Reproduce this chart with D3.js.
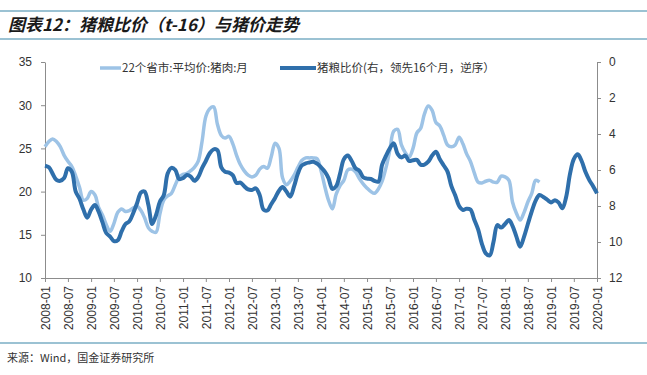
<!DOCTYPE html>
<html>
<head>
<meta charset="utf-8">
<script src="https://cdn.jsdelivr.net/npm/d3@7"></script>
<style>
  body { margin: 0; background: #fff; }
  svg { display: block; font-family: "Liberation Sans", Arial, sans-serif; }
</style>
</head>
<body>
<div id="chart"></div>
<script>
// monthly, starting 2008-01
const porkPrice = [
  25.2, 25.8, 26.1, 25.8, 25.2, 24.2, 23.5, 22.9, 21.8, 20.5, 19.0, 19.2,
  20.0, 19.6, 18.2, 17.3, 16.2, 15.4, 16.3, 17.6, 18.0, 17.7, 17.8, 18.1,
  18.3, 17.8, 17.0, 15.8, 15.4, 15.3, 17.4, 19.0, 19.5, 19.8, 20.8, 21.7,
  22.0, 22.1, 22.4, 22.8, 23.5, 25.8, 28.7, 29.6, 29.8, 27.8, 26.5, 26.2,
  26.4, 25.5, 24.2, 23.1, 22.4, 21.9, 21.7, 21.9, 22.6, 22.9, 22.7, 24.0,
  25.6, 25.0, 21.6, 20.8, 21.2, 21.9, 22.8, 23.6, 23.9, 23.9, 23.9, 23.8,
  22.4, 20.5, 19.0, 18.0, 19.7, 20.7, 21.3, 22.5, 22.6, 22.3, 21.5, 20.9,
  20.4, 20.0, 19.8, 20.3, 21.2, 22.8, 24.8, 27.0, 27.2, 25.4, 24.5, 24.0,
  25.0, 26.8, 27.3, 29.0, 29.9, 29.4, 28.0, 27.6, 26.5, 25.4, 25.2, 25.4,
  26.3, 25.5, 24.4, 23.5, 22.2, 21.1, 21.0, 21.2, 21.3, 21.1, 21.1, 21.8,
  21.7, 21.3, 18.8, 17.5, 16.7, 17.6, 18.8, 19.8, 21.3, 21.1
];

// hog/grain ratio, shifted 16 months ahead, right axis (reversed)
const hogGrainRatio = [
  5.76, 5.85, 6.2, 6.55, 6.6, 6.45, 5.9, 6.1, 7.2, 7.6, 8.2, 8.65,
  8.2, 7.95, 8.3, 8.9, 9.5, 9.7, 9.95, 9.9, 9.4, 9.0, 8.85, 8.4,
  7.85, 7.25, 7.2, 7.94, 9.0, 8.5, 7.76, 7.4, 6.2, 5.88, 6.0, 6.5,
  6.45, 6.28, 6.35, 6.6, 6.4, 5.9, 5.5, 5.07, 4.85, 4.9, 5.85, 6.1,
  6.15, 6.3, 6.72, 6.7, 6.9, 7.08, 7.11, 7.02, 7.4, 8.2, 8.25, 7.9,
  7.55, 7.15, 6.95, 7.2, 7.48, 6.9, 6.2, 5.75, 5.63, 5.58, 5.54, 5.65,
  5.85, 6.1, 6.45, 7.05, 6.9, 6.2, 5.4, 5.2, 5.5, 5.9, 6.05, 6.4,
  6.48, 6.5, 6.6, 6.65, 5.7, 5.2, 4.8, 4.52, 5.1, 5.3, 5.2, 5.5,
  5.46, 5.44, 5.7, 5.7, 5.54, 5.2, 4.98, 5.4, 5.75, 6.09, 6.9, 7.4,
  8.0, 8.22, 8.15, 8.2, 8.75, 9.3, 10.1, 10.63, 10.75, 10.0, 9.06, 9.2,
  9.0, 8.78, 9.1, 9.7, 10.26, 9.7, 9.0, 8.3, 7.7, 7.39, 7.5, 7.65,
  7.8, 7.68, 7.8, 8.13, 7.5, 6.2, 5.4, 5.13, 5.5, 6.1, 6.56, 6.9, 7.3
];

const leftTicks = [10, 15, 20, 25, 30, 35];
const rightTicks = [0, 2, 4, 6, 8, 10, 12];
const seriesNames = ["22个省市:平均价:猪肉:月", "猪粮比价(右，领先16个月，逆序）"];

const width = 647, height = 375;
const x0 = 45, x1 = 597, yTop = 62, yBot = 278;
const lightBlue = "#9dc3e6", darkBlue = "#2f6fab", axisGrey = "#8c8c8c";

const monthDate = i => new Date(2008, i, 1);

const x = d3.scaleTime()
  .domain([monthDate(0), monthDate(144)])
  .range([x0, x1]);
const yL = d3.scaleLinear().domain([10, 35]).range([yBot, yTop]);
const yR = d3.scaleLinear().domain([0, 12]).range([yTop, yBot]);

const svg = d3.select("#chart")
  .append("svg")
  .attr("width", width)
  .attr("height", height);

// title block
[11, 39].forEach(yy => {
  svg.append("line")
    .attr("x1", 0).attr("x2", width).attr("y1", yy).attr("y2", yy)
    .attr("stroke", "#7aaec4").attr("stroke-width", 1.5);
});
svg.append("text")
  .attr("x", 8).attr("y", 31)
  .attr("font-family", "'Noto Sans CJK SC', sans-serif")
  .attr("font-size", 17)
  .attr("font-weight", "bold")
  .attr("font-style", "italic")
  .attr("fill", "#1a1a1a")
  .text("图表12：猪粮比价（t-16）与猪价走势");

// footer
svg.append("line")
  .attr("x1", 0).attr("x2", width).attr("y1", 343).attr("y2", 343)
  .attr("stroke", "#7aaec4").attr("stroke-width", 1.5);
svg.append("text")
  .attr("x", 7).attr("y", 362)
  .attr("font-family", "'Noto Sans CJK SC', sans-serif")
  .attr("font-size", 11)
  .attr("fill", "#333")
  .text("来源：Wind，国金证券研究所");

// axes
const styleAxis = g => {
  g.select(".domain").attr("stroke", axisGrey);
  g.selectAll(".tick line").attr("stroke", axisGrey);
  g.selectAll(".tick text").attr("fill", "#333").attr("font-size", 12);
};

svg.append("g")
  .attr("transform", `translate(${x0},0)`)
  .call(d3.axisLeft(yL).tickValues(leftTicks).tickSize(4).tickSizeOuter(0).tickPadding(9))
  .call(styleAxis);

svg.append("g")
  .attr("transform", `translate(${x1},0)`)
  .call(d3.axisRight(yR).tickValues(rightTicks).tickSize(4).tickSizeOuter(0).tickPadding(8))
  .call(styleAxis);

const xAxis = svg.append("g")
  .attr("transform", `translate(0,${yBot})`)
  .call(d3.axisBottom(x)
    .ticks(d3.timeMonth.every(6))
    .tickFormat(d3.timeFormat("%Y-%m"))
    .tickSize(4).tickSizeOuter(0))
  .call(styleAxis);

xAxis.selectAll(".tick text")
  .attr("font-size", 12)
  .attr("text-anchor", "end")
  .attr("transform", "rotate(-90)")
  .attr("x", -8)
  .attr("y", 0)
  .attr("dy", "0.35em");

// lines
const lineL = d3.line()
  .x((d, i) => x(monthDate(i)))
  .y(d => yL(d))
  .curve(d3.curveCatmullRom.alpha(0.5));

const lineR = d3.line()
  .x((d, i) => x(monthDate(i)))
  .y(d => yR(d))
  .curve(d3.curveCatmullRom.alpha(0.5));

svg.append("path")
  .datum(porkPrice)
  .attr("fill", "none")
  .attr("stroke", lightBlue)
  .attr("stroke-width", 3.5)
  .attr("stroke-linejoin", "round")
  .attr("d", lineL);

svg.append("path")
  .datum(hogGrainRatio)
  .attr("fill", "none")
  .attr("stroke", darkBlue)
  .attr("stroke-width", 4)
  .attr("stroke-linejoin", "round")
  .attr("d", lineR);

// legend
const legend = svg.append("g")
  .attr("font-family", "'Noto Sans CJK SC', sans-serif")
  .attr("font-size", 11.5)
  .attr("fill", "#333");

const legendItems = [
  { name: seriesNames[0], color: lightBlue, w: 3.5, x: 100, len: 21 },
  { name: seriesNames[1], color: darkBlue, w: 4, x: 280, len: 36 }
];

legendItems.forEach(d => {
  legend.append("line")
    .attr("x1", d.x).attr("x2", d.x + d.len)
    .attr("y1", 68).attr("y2", 68)
    .attr("stroke", d.color).attr("stroke-width", d.w);
  legend.append("text")
    .attr("x", d.x + d.len + 1).attr("y", 68)
    .attr("dy", "0.35em")
    .text(d.name);
});
</script>
</body>
</html>
